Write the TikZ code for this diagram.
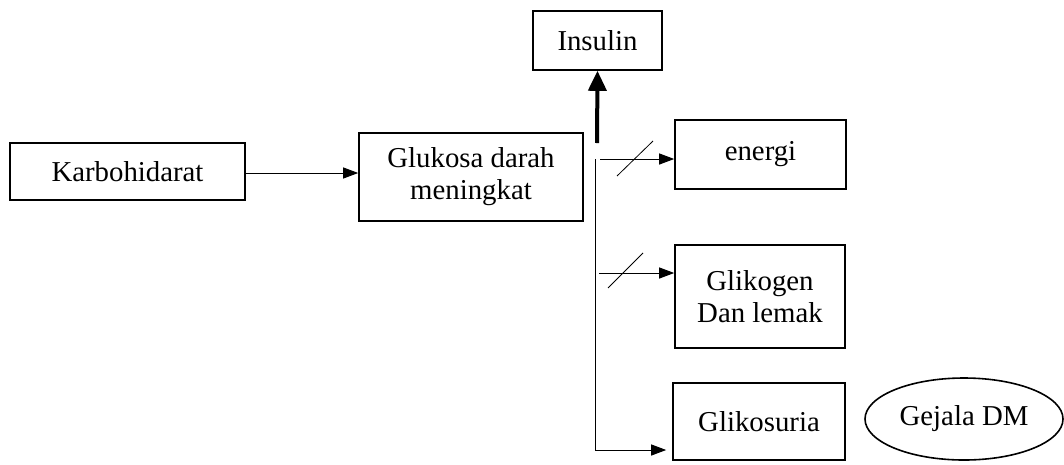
\documentclass[tikz,border=0pt]{standalone}
\usepackage{fontspec}
\setmainfont{Liberation Serif}
\usepackage{tikz}
\usetikzlibrary{calc}
\usetikzlibrary{arrows.meta}
\usetikzlibrary{shapes}

\begin{document}
\begin{tikzpicture}
    [x=1pt, y=-1pt,
     kotak/.style={rectangle, draw=black, line width=1.6pt, inner sep=0pt, align=center, font=\fontsize{28.8}{32}\selectfont},
     panah/.style={draw=black, line width=1pt, -{Triangle[length=15pt, width=11pt]}},
     panahtebal/.style={draw=black, line width=4pt, -{Triangle[length=20pt, width=18pt]}},
     coret/.style={draw=black, line width=0.8pt}]
    \useasboundingbox (0,0) rectangle (1064,464);
    % kotak-kotak
    \node(karbo)[kotak, minimum width=235pt, minimum height=57pt] at (127.5,171.5) {Karbohidarat};
    \node(glukosa)[kotak, minimum width=224pt, minimum height=88pt] at (471,177) {Glukosa darah\\meningkat};
    \node(insulin)[kotak, minimum width=129pt, minimum height=59pt] at (597.5,40.5) {Insulin};
    \node(energi)[kotak, minimum width=171pt, minimum height=69pt] at (760.5,154.5) {energi};
    \node(glikogen)[kotak, minimum width=170pt, minimum height=103pt] at (760,296.5) {Glikogen\\Dan lemak};
    \node(glikosuria)[kotak, minimum width=172pt, minimum height=77pt] at (759,421.5) {Glikosuria};
    \node(gejala)[ellipse, draw=black, line width=1.6pt, minimum width=198pt, minimum height=82pt, inner sep=0pt, font=\fontsize{28.8}{32}\selectfont] at (964,419) {Gejala DM};
    % titik cabang
    \coordinate (pangkal) at (597,143);
    \coordinate (batang) at (595,159);
    \coordinate (cabang) at (595,273);
    \coordinate (ujung) at (595,450);
    % panah
    \draw[panah] (karbo.east |- 0,173) -- (glukosa.west |- 0,173);
    \draw[panahtebal] (pangkal) -- (insulin.south);
    \draw[panah] ([xshift=5pt]batang) -- (batang -| energi.west);
    \draw[panah] ([xshift=4pt]cabang) -- (cabang -| glikogen.west);
    \draw[panah, shorten >=6pt] (batang) -- (ujung) -- (ujung -| glikosuria.west);
    % coretan
    \draw[coret] (617,176) -- (653,141);
    \draw[coret] (608,288) -- (643,253);
\end{tikzpicture}
\end{document}
